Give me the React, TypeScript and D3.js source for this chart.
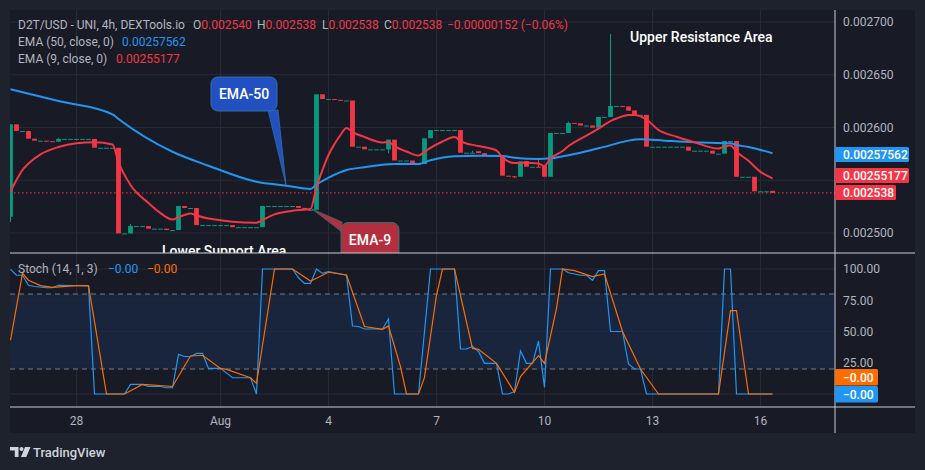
import * as d3 from "d3";
import React, { useEffect } from "react";

// ---- candle data (4h), index 0 = Jul 26 ~08:00 ----
const opens = [
  0.0025154, 0.0026030, 0.0025967, 0.0025967, 0.0025894, 0.0025875, 0.0025875, 0.0025870, 0.0025866, 0.0025892,
  0.0025892, 0.0025892, 0.0025892, 0.0025892, 0.0025892, 0.0025808, 0.0025808, 0.0025808, 0.0025808, 0.0024996,
  0.0024996, 0.0025066, 0.0025066, 0.0025066, 0.0025041, 0.0025041, 0.0025041, 0.0025028, 0.0025028, 0.0025256,
  0.0025237, 0.0025237, 0.0025075, 0.0025075, 0.0025075, 0.0025075, 0.0025075, 0.0025075, 0.0025055, 0.0025055,
  0.0025055, 0.0025055, 0.0025055, 0.0025256, 0.0025256, 0.0025256, 0.0025256, 0.0025256, 0.0025256, 0.0025238,
  0.0025220, 0.0025220, 0.0026315, 0.0026270, 0.0026270, 0.0026263, 0.0026256, 0.0026256, 0.0025818, 0.0025818,
  0.0025793, 0.0025793, 0.0025793, 0.0025793, 0.0025885, 0.0025687, 0.0025687, 0.0025687, 0.0025654, 0.0025654,
  0.0025898, 0.0025976, 0.0025976, 0.0025976, 0.0025976, 0.0025976, 0.0025761, 0.0025761, 0.0025776, 0.0025757,
  0.0025733, 0.0025733, 0.0025733, 0.0025543, 0.0025538, 0.0025533, 0.0025682, 0.0025628, 0.0025628, 0.0025638,
  0.0025533, 0.0025948, 0.0025948, 0.0025948, 0.0026043, 0.0026040, 0.0026019, 0.0026019, 0.0025998, 0.0026100,
  0.0026100, 0.0026204, 0.0026204, 0.0026200, 0.0026162, 0.0026120, 0.0026120, 0.0025818, 0.0025818, 0.0025818,
  0.0025818, 0.0025818, 0.0025818, 0.0025818, 0.0025780, 0.0025780, 0.0025780, 0.0025780, 0.0025752, 0.0025752,
  0.0025872, 0.0025872, 0.0025533, 0.0025533, 0.0025533, 0.0025395, 0.0025395, 0.0025400,
];
const closes = [
  0.0026030, 0.0025967, 0.0025967, 0.0025894, 0.0025875, 0.0025875, 0.0025870, 0.0025866, 0.0025892, 0.0025892,
  0.0025892, 0.0025892, 0.0025892, 0.0025892, 0.0025808, 0.0025808, 0.0025808, 0.0025808, 0.0024996, 0.0024996,
  0.0025066, 0.0025066, 0.0025066, 0.0025041, 0.0025041, 0.0025041, 0.0025028, 0.0025028, 0.0025256, 0.0025237,
  0.0025237, 0.0025075, 0.0025075, 0.0025075, 0.0025075, 0.0025075, 0.0025075, 0.0025055, 0.0025055, 0.0025055,
  0.0025055, 0.0025055, 0.0025256, 0.0025256, 0.0025256, 0.0025256, 0.0025256, 0.0025256, 0.0025238, 0.0025220,
  0.0025220, 0.0026315, 0.0026270, 0.0026270, 0.0026263, 0.0026256, 0.0026256, 0.0025818, 0.0025818, 0.0025793,
  0.0025793, 0.0025793, 0.0025793, 0.0025885, 0.0025687, 0.0025687, 0.0025687, 0.0025654, 0.0025654, 0.0025898,
  0.0025976, 0.0025976, 0.0025976, 0.0025976, 0.0025976, 0.0025761, 0.0025761, 0.0025761, 0.0025757, 0.0025733,
  0.0025733, 0.0025733, 0.0025543, 0.0025538, 0.0025533, 0.0025679, 0.0025628, 0.0025628, 0.0025623, 0.0025533,
  0.0025948, 0.0025948, 0.0025948, 0.0026043, 0.0026038, 0.0026019, 0.0026019, 0.0025998, 0.0026100, 0.0026100,
  0.0026204, 0.0026204, 0.0026199, 0.0026159, 0.0026120, 0.0026120, 0.0025818, 0.0025818, 0.0025818, 0.0025818,
  0.0025818, 0.0025818, 0.0025818, 0.0025780, 0.0025780, 0.0025780, 0.0025780, 0.0025752, 0.0025752, 0.0025872,
  0.0025872, 0.0025533, 0.0025533, 0.0025533, 0.0025395, 0.0025395, 0.0025395, 0.0025380,
];
// wicks that reach past the body: [candle index, price]
const wickHighs: [number, number][] = [[8, 0.0025903], [20, 0.0025085], [77, 0.0025780], [88, 0.0025713], [93, 0.0026055], [100, 0.0026886]];
const wickLows: [number, number][] = [[0, 0.0025104], [63, 0.0025755], [84, 0.002552]];

// EMA lines: [candle index, value]
const ema50: [number, number][] = [
  [0, 0.0026362], [8, 0.0026251], [17, 0.0026125], [18, 0.0026081], [27, 0.002577], [33, 0.0025638], [41, 0.0025486],
  [46, 0.0025448], [50, 0.0025417], [51, 0.002546], [53, 0.0025524], [56, 0.0025597], [59, 0.0025623], [64, 0.0025654],
  [68, 0.0025654], [70, 0.0025689], [74, 0.0025727], [78, 0.0025733], [82, 0.002573], [84, 0.0025714], [88, 0.0025701],
  [90, 0.0025708], [94, 0.0025749], [98, 0.0025803], [105, 0.0025888], [109, 0.0025875], [114, 0.002586], [120, 0.002585],
  [121, 0.0025835], [123, 0.0025815], [127, 0.0025756],
];
const ema9: [number, number][] = [
  [0, 0.0025391], [1, 0.0025502], [2, 0.0025597], [3, 0.0025658], [5, 0.0025746], [8, 0.0025815], [11, 0.002585],
  [14, 0.002586], [17, 0.0025839], [18, 0.0025673], [20, 0.0025455], [23, 0.0025284], [25, 0.0025189], [27, 0.0025128],
  [28, 0.0025151], [29, 0.002517], [30, 0.0025185], [31, 0.0025166], [33, 0.0025137], [41, 0.0025097], [42, 0.0025123],
  [44, 0.0025177], [47, 0.0025211], [50, 0.0025227], [51, 0.0025436], [52, 0.0025597], [53, 0.0025739], [54, 0.0025843],
  [55, 0.0025929], [56, 0.0025995], [57, 0.0025957], [59, 0.002591], [62, 0.0025858], [63, 0.0025862], [64, 0.0025824],
  [66, 0.0025772], [68, 0.0025734], [69, 0.0025768], [70, 0.0025806], [72, 0.0025867], [74, 0.002591], [75, 0.0025872],
  [78, 0.0025824], [81, 0.0025782], [82, 0.0025715], [84, 0.0025663], [85, 0.0025666], [86, 0.0025666], [88, 0.0025659],
  [89, 0.0025635], [90, 0.0025711], [91, 0.0025743], [92, 0.0025777], [93, 0.0025824], [94, 0.0025862], [96, 0.0025924],
  [98, 0.002599], [100, 0.0026061], [101, 0.0026085], [103, 0.0026118], [104, 0.0026118], [106, 0.0026076],
  [108, 0.0025976], [111, 0.0025913], [114, 0.002586], [118, 0.00258], [119, 0.002582], [120, 0.002583],
  [121, 0.002577], [123, 0.0025684], [125, 0.0025579], [127, 0.0025518],
];

// Stoch (14, 1, 3) vertices: [candle index, value]
const stochK: [number, number][] = [
  [0, 99.7], [1, 95], [2, 95], [3, 87], [4, 86], [6, 85], [7, 85], [8, 87], [13, 86.5], [14, 0], [19, 0], [20, 7.7],
  [22, 7.7], [23, 6], [25, 6], [26, 5], [27, 5], [28, 31.7], [29, 30], [30, 30], [31, 32.5], [32, 32.5], [33, 20.5],
  [35, 20.5], [37, 13], [40, 13], [41, 0], [42, 100], [47, 100], [48, 93], [49, 88.5], [50, 88.5], [51, 100], [52, 96.5],
  [53, 98], [56, 95], [57, 54.4], [58, 54], [59, 52], [62, 52], [63, 60], [64, 0], [68, 0], [69, 50], [70, 100], [74, 100],
  [75, 36], [76, 36], [77, 38], [78, 34], [79, 24.5], [81, 24.5], [82, 0], [83, 0], [84, 2], [85, 34.4], [86, 24.5],
  [87, 24.5], [88, 42.4], [89, 5.3], [90, 100], [92, 100], [93, 97], [95, 95], [96, 95], [97, 91], [98, 98.7], [99, 98.7],
  [100, 50], [102, 50], [103, 24], [104, 20], [105, 20], [106, 0], [118, 0], [119, 100], [120, 100], [121, 0], [127, 0],
];
const stochD: [number, number][] = [
  [0, 43], [2, 96.5], [3, 91], [5, 86.7], [7, 85.3], [11, 86.7], [13, 86.7], [16, 0], [19, 0], [22, 7.7], [27, 6],
  [30, 30.4], [32, 31], [35, 20.5], [36, 19.7], [40, 13], [41, 8.5], [44, 100], [47, 100], [50, 90.4], [51, 92.6],
  [53, 97.4], [56, 95.2], [59, 54], [62, 51.7], [63, 54.4], [65, 21.9], [66, 0], [68, 0], [69, 13.3], [71, 79], [72, 100],
  [74, 100], [77, 36.5], [78, 35.7], [81, 24.5], [84, 1.3], [85, 13.9], [88, 30.7], [89, 24.5], [91, 68.5], [92, 100],
  [94, 98.7], [97, 93.9], [99, 96], [102, 50], [105, 20], [108, 0], [118, 0], [120, 66.7], [121, 66.7], [123, 0], [127, 0],
];

const timeTicks = ["28", "Aug", "4", "7", "10", "13", "16"];
const timeTickIndex = [11, 35, 53, 71, 89, 107, 125];
const priceTicks = [0.0025, 0.00255, 0.0026, 0.00265, 0.0027];
const priceTickLabels = ["0.002500", "", "0.002600", "0.002650", "0.002700"];
const stochTicks = [0, 25, 50, 75, 100];
const stochTickLabels = ["", "25.00", "50.00", "75.00", "100.00"];

const lastClose = 0.002538;

const UP = "#089981";
const DOWN = "#f23645";
const BLUE = "#2196f3";
const ORANGE = "#ff6d00";
const GRID = "#272b36";
const TXT = "#b2b5be";
const FONT = "Roboto, 'Noto Sans', sans-serif";

export default function App() {
  useEffect(() => {
    document.body.style.margin = "0";
    document.body.style.background = "#1e222d";
  }, []);

  const left = 10, right = 915, top = 10, bottom = 433, axisX = 835;
  const priceBottom = 253, stochBottom = 407;

  const x = d3.scaleLinear().domain([0, 127]).range([10.5, 772.5]);
  const y = d3.scaleLinear().domain([0.0025, 0.0027]).range([233, 22]);
  const ys = d3.scaleLinear().domain([0, 100]).range([394, 269]);

  const priceLine = d3.line<[number, number]>().x(d => x(d[0])).y(d => y(d[1])).curve(d3.curveMonotoneX);
  const stochLine = d3.line<[number, number]>().x(d => x(d[0])).y(d => ys(d[1]));

  const bw = 4.8;
  const hiMap = new Map(wickHighs);
  const loMap = new Map(wickLows);

  return (
    <svg width={925} height={470} style={{ display: "block", fontFamily: FONT }}>
      <defs>
        <clipPath id="pricePane"><rect x={left} y={top} width={axisX - left} height={priceBottom - top} /></clipPath>
        <clipPath id="stochPane"><rect x={left} y={priceBottom} width={axisX - left} height={stochBottom - priceBottom} /></clipPath>
      </defs>
      <rect x={0} y={0} width={925} height={470} fill="#1e222d" />
      <rect x={left} y={top} width={right - left} height={bottom - top} fill="#181b26" />

      {/* grid */}
      {timeTickIndex.map((t, i) => (
        <line key={"vg" + i} x1={x(t)} x2={x(t)} y1={top} y2={stochBottom} stroke={GRID} />
      ))}
      {priceTicks.map((p, i) => (
        <line key={"hg" + i} x1={left} x2={axisX} y1={y(p)} y2={y(p)} stroke={GRID} />
      ))}

      {/* stoch band + grid */}
      <rect x={left} y={ys(80)} width={axisX - left} height={ys(20) - ys(80)} fill="#18253d" />
      {stochTicks.map((v, i) => (
        <line key={"sg" + i} x1={left} x2={axisX} y1={ys(v)} y2={ys(v)} stroke={GRID} opacity={v === 25 || v === 75 || v === 50 ? 0.7 : 1} />
      ))}
      {[80, 20].map(v => (
        <line key={"sd" + v} x1={left} x2={axisX} y1={ys(v)} y2={ys(v)} stroke="#787b86" strokeDasharray="5 4" />
      ))}

      {/* price pane */}
      <g clipPath="url(#pricePane)">
        <line x1={left} x2={axisX} y1={y(lastClose)} y2={y(lastClose)} stroke={DOWN} strokeDasharray="1.5 2.5" />
        {opens.map((o, i) => {
          const c = closes[i];
          const col = c >= o ? UP : DOWN;
          const hi = Math.max(o, c, hiMap.get(i) ?? 0);
          const lo = Math.min(o, c, loMap.get(i) ?? 1);
          const yt = y(Math.max(o, c));
          const h = Math.max(1, y(Math.min(o, c)) - yt);
          return (
            <g key={"c" + i}>
              {(hiMap.has(i) || loMap.has(i)) && (
                <line x1={x(i)} x2={x(i)} y1={y(hi)} y2={y(lo)} stroke={col} strokeWidth={1} />
              )}
              <rect x={x(i) - bw / 2} y={yt} width={bw} height={h} fill={col} />
            </g>
          );
        })}
        <path d={priceLine(ema50) || ""} fill="none" stroke={BLUE} strokeWidth={2} />
        <path d={priceLine(ema9) || ""} fill="none" stroke={DOWN} strokeWidth={2} />

        {/* callouts */}
        <polygon points="268,110 278,110 286,185" fill="#2350c0" stroke="#2f6fae" strokeWidth={0.8} />
        <rect x={211} y={77} width={66} height={34} rx={7} fill="#2350c0" stroke="#2f6fae" />
        <text x={244} y={98.5} fill="#fff" fontSize={14} fontWeight={500} textAnchor="middle">EMA-50</text>

        <polygon points="312,209 342,222 342,232" fill="#b32e3e" stroke="#2f7078" strokeWidth={0.8} />
        <rect x={341} y={222.5} width={58} height={40} rx={7} fill="#b32e3e" stroke="#2f7078" />
        <text x={370} y={244.5} fill="#fff" fontSize={14} fontWeight={500} textAnchor="middle">EMA-9</text>

        <text x={630} y={42} fill="#fff" fontSize={14} fontWeight={500}>Upper Resistance Area</text>
        <text x={162} y={255.5} fill="#fff" fontSize={14} fontWeight={500}>Lower Support Area</text>
      </g>

      {/* stoch pane */}
      <g clipPath="url(#stochPane)">
        <path d={stochLine(stochK) || ""} fill="none" stroke={BLUE} strokeWidth={1.2} />
        <path d={stochLine(stochD) || ""} fill="none" stroke={ORANGE} strokeWidth={1.2} />
      </g>

      {/* separators */}
      <line x1={left} x2={right} y1={priceBottom} y2={priceBottom} stroke="#c9ccd4" />
      <line x1={left} x2={right} y1={stochBottom} y2={stochBottom} stroke="#c9ccd4" />
      <line x1={axisX} x2={axisX} y1={top} y2={bottom} stroke="#c9ccd4" />

      {/* legend */}
      <g fontSize={12} fill={TXT}>
        <text x={18} y={29}>D2T/USD - UNI, 4h, DEXTools.io</text>
        <text x={193} y={29}>O<tspan fill={DOWN}>0.002540</tspan></text>
        <text x={257} y={29}>H<tspan fill={DOWN}>0.002538</tspan></text>
        <text x={322} y={29}>L<tspan fill={DOWN}>0.002538</tspan></text>
        <text x={384} y={29}>C<tspan fill={DOWN}>0.002538</tspan></text>
        <text x={447} y={29} fill={DOWN}>−0.00000152 (−0.06%)</text>
        <text x={18} y={46}>EMA (50, close, 0)</text>
        <text x={122} y={46} fill={BLUE}>0.00257562</text>
        <text x={18} y={63}>EMA (9, close, 0)</text>
        <text x={116} y={63} fill={DOWN}>0.00255177</text>
        <text x={18} y={273}>Stoch (14, 1, 3)</text>
        <text x={108} y={273} fill={BLUE}>−0.00</text>
        <text x={147} y={273} fill={ORANGE}>−0.00</text>
      </g>

      {/* right axis */}
      <g fontSize={12} fill={TXT}>
        {priceTicks.map((p, i) => priceTickLabels[i] && (
          <text key={"pl" + i} x={843} y={y(p) + 4.3}>{priceTickLabels[i]}</text>
        ))}
        {stochTicks.map((v, i) => stochTickLabels[i] && (
          <text key={"sl" + i} x={843} y={ys(v) + 4.3}>{stochTickLabels[i]}</text>
        ))}
      </g>

      {/* last value labels */}
      <g fontSize={12} fontWeight={500} fill="#fff">
        <rect x={835} y={147} width={74} height={15} fill={BLUE} rx={1.5} />
        <text x={843} y={159}>0.00257562</text>
        <rect x={835} y={168} width={74} height={15} fill={DOWN} rx={1.5} />
        <text x={843} y={180}>0.00255177</text>
        <rect x={835} y={185} width={61} height={15} fill={DOWN} rx={1.5} />
        <text x={843} y={197}>0.002538</text>
        <rect x={835} y={369} width={43} height={16.5} fill={ORANGE} rx={1.5} />
        <text x={843} y={381.5}>−0.00</text>
        <rect x={835} y={386} width={43} height={16.5} fill={BLUE} rx={1.5} />
        <text x={843} y={398.5}>−0.00</text>
      </g>

      {/* time axis */}
      <g fontSize={12} fill={TXT} textAnchor="middle">
        {timeTicks.map((t, i) => (
          <text key={"tl" + i} x={x(timeTickIndex[i])} y={425}>{t}</text>
        ))}
      </g>

      {/* logo */}
      <g fill="#d1d4dc">
        <path d="M10 447 H18.5 V457 H14.8 V450.5 H10 Z" />
        <circle cx={21.5} cy={449} r={2} />
        <path d="M25 447 H30.5 L26.3 457 H21 Z" />
        <text x={33} y={456.5} fontSize={13} fontWeight={500}>TradingView</text>
      </g>
    </svg>
  );
}
